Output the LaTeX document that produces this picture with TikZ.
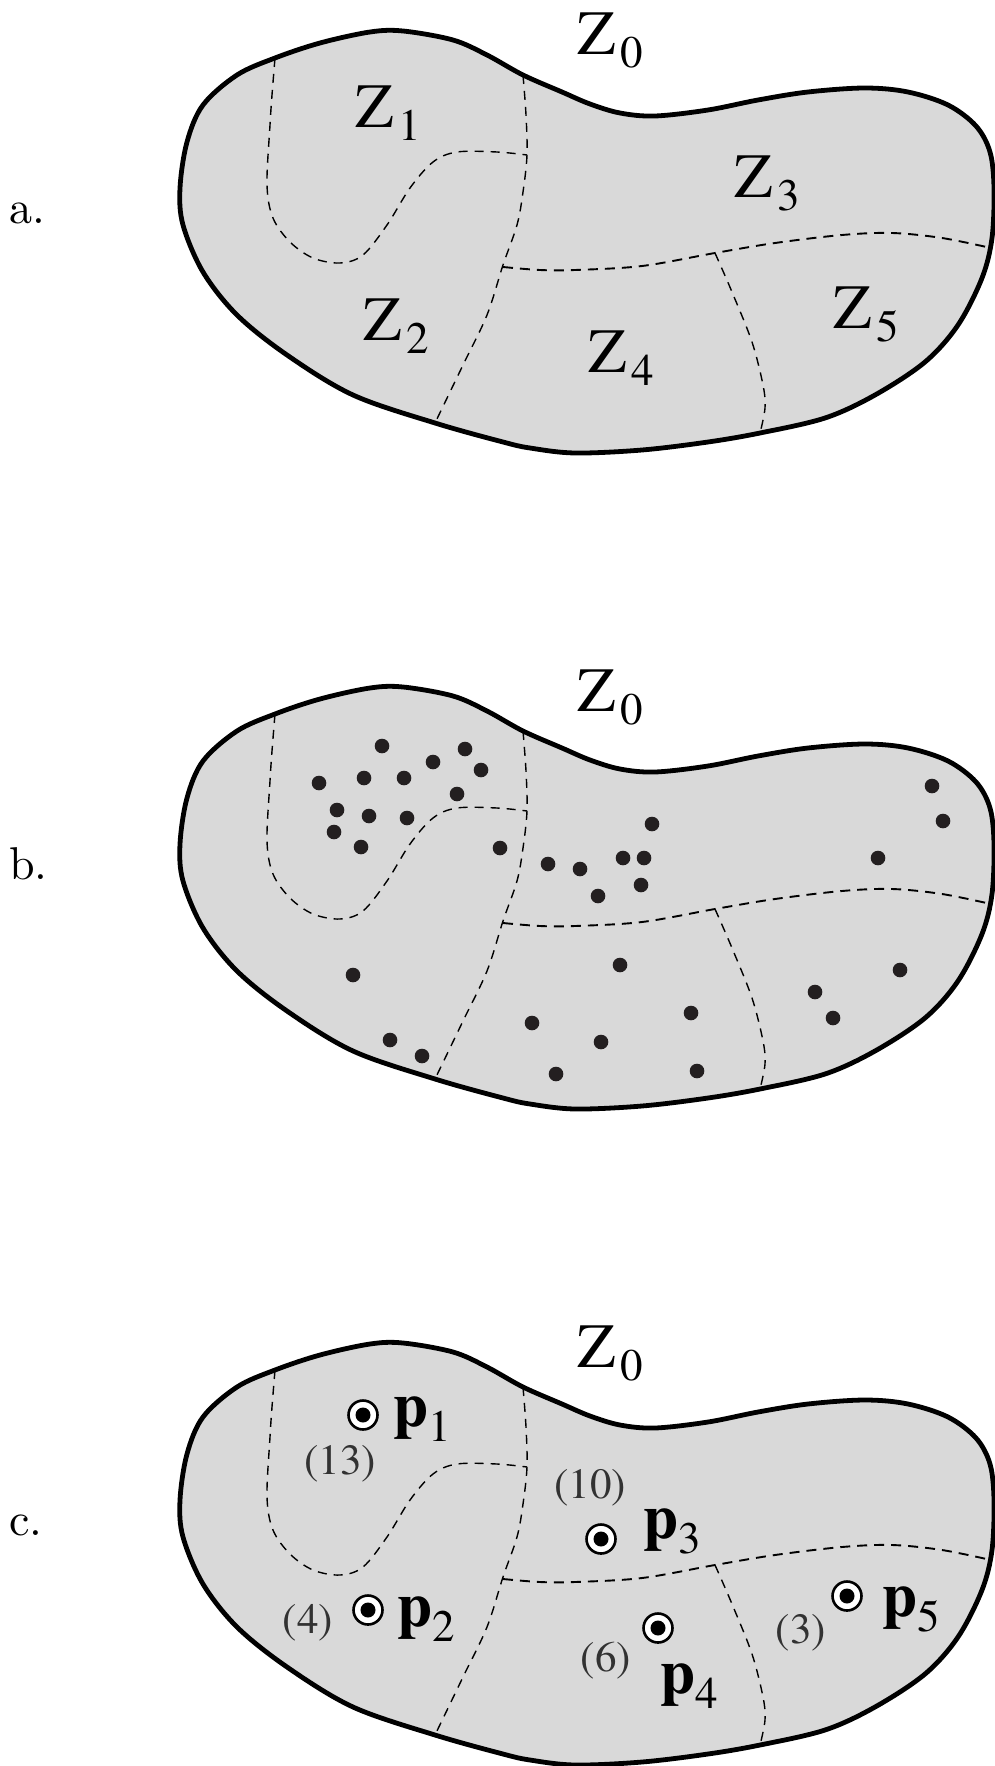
\documentclass[tikz,border=0pt]{standalone}
\usepackage{fontspec}
\newfontfamily\lsfont{texgyretermes}[Extension=.otf, UprightFont=*-regular, BoldFont=*-bold]
\newfontfamily\lmfont{lmroman10-regular}[Extension=.otf]
\definecolor{blobgray}{RGB}{217,217,217}
\definecolor{dotcol}{RGB}{35,31,32}
\definecolor{cntcol}{RGB}{50,50,50}
\newcommand{\Zsub}[1]{Z\kern5pt\raisebox{-13pt}{\lsfont\fontsize{45}{45}\selectfont #1}}
\newcommand{\psub}[1]{{\bfseries p}\kern0.5pt\raisebox{-15pt}{\lsfont\fontsize{45}{45}\selectfont #1}}
\tikzset{
  outline/.style={line width=4.8pt, fill=blobgray, line join=round},
  zone/.style={dash pattern=on 9pt off 7pt, line width=1.4pt},
  zonemid/.style={dash pattern=on 10pt off 7pt, line width=1.9pt},
  lbl/.style={inner sep=0pt, outer sep=0pt, anchor=base west, font=\lsfont\fontsize{63}{63}\selectfont},
  cnt/.style={inner sep=0pt, anchor=base, text=cntcol, font=\lsfont\fontsize{43}{43}\selectfont},
  dot/.style={circle, fill=dotcol, inner sep=0pt, minimum size=14.6pt},
  ring/.style={circle, draw, line width=2.6pt, fill=white, minimum size=29pt, inner sep=0pt,
    path picture={\fill[black] (path picture bounding box.center) circle (7.5pt);}},
  panlbl/.style={inner sep=0pt, anchor=base west, font=\lmfont\fontsize{46}{46}\selectfont}
}
\begin{document}
\begin{tikzpicture}[x=1pt,y=-1pt]
\useasboundingbox (0,0) rectangle (995,1766);
\foreach \oy/\nm in {0/a,656/b,1312/c}{
\begin{scope}[yshift=-\oy pt]
  \draw[outline] plot[smooth cycle, tension=0.55] coordinates {
    (180,188) (187,142) (203,105) (237,75) (275,58) (320,43) (370,32) (403,31)
    (453,40) (487,55) (523,75) (562,92) (590,104) (620,113) (655,116) (708,110)
    (758,100) (808,92) (865,88) (908,92) (948,105) (976,126) (990,152) (994,188)
    (992,238) (982,278) (958,325) (925,362) (875,395) (825,418) (760,433) (708,442)
    (642,450) (575,453) (530,448) (503,442) (435,423) (353,395) (287,355) (237,315)
    (203,272) (183,225)};
  \draw[zone] plot[smooth, tension=0.55] coordinates {
    (275,58) (272,95) (270,125) (267,185) (273,218) (290,242) (313,258) (340,263)
    (363,255) (387,225) (410,188) (433,162) (457,152) (497,152) (527,155)};
  \draw[zone] plot[smooth, tension=0.55] coordinates {
    (523,75) (526,115) (527,155) (523,192) (517,225) (503,265) (487,315) (463,365) (435,423)};
  \draw[zonemid] plot[smooth, tension=0.55] coordinates {
    (503,267) (540,270) (575,270) (642,266) (715,253) (775,243) (842,235) (892,233) (942,238) (991,248)};
  \draw[zone] plot[smooth, tension=0.55] coordinates {
    (715,253) (732,292) (752,342) (763,385) (765,408) (760,433)};
  \node[lbl] (z0\nm) at (577,55) {\Zsub{0}};
\end{scope}
}
% panel labels
\node[panlbl] (la) at (9,223) {a.};
\node[panlbl] (lb) at (9,879) {b.};
\node[panlbl] (lc) at (9,1535) {c.};
% panel a zone names
\node[lbl] (z1) at (355,128) {\Zsub{1}};
\node[lbl] (z2) at (363,340) {\Zsub{2}};
\node[lbl] (z3) at (734,197) {\Zsub{3}};
\node[lbl] (z4) at (588,372) {\Zsub{4}};
\node[lbl] (z5) at (833,328) {\Zsub{5}};
% panel b points
\foreach \p [count=\i] in {(382,746),(465,749),(433,762),(481,770),(319,783),(364,778),(404,778),
  (457,794),(337,810),(369,816),(407,818),(334,832),(361,847),
  (500,848),(353,975),(390,1040),(422,1056),
  (548,864),(580,869),(623,858),(644,858),(641,885),(598,896),(652,824),(932,786),(943,821),(878,858),
  (620,965),(532,1023),(601,1042),(556,1074),(691,1013),(697,1071),
  (900,970),(815,992),(833,1018)}{
  \node[dot] (d\i) at \p {};
}
% panel c representatives
\node[ring] (m1) at (363,1415) {};
\node[lbl] (p1) at (393,1426) {\psub{1}};
\node[cnt] (c1) at (340,1474) {(13)};
\node[ring] (m2) at (368,1610) {};
\node[lbl] (p2) at (397,1626) {\psub{2}};
\node[cnt] (c2) at (308,1633) {(4)};
\node[ring] (m3) at (601,1539) {};
\node[lbl] (p3) at (643,1538) {\psub{3}};
\node[cnt] (c3) at (590,1498) {(10)};
\node[ring] (m4) at (658,1628) {};
\node[lbl] (p4) at (660,1693) {\psub{4}};
\node[cnt] (c4) at (606,1671) {(6)};
\node[ring] (m5) at (847,1596) {};
\node[lbl] (p5) at (882,1616) {\psub{5}};
\node[cnt] (c5) at (801,1643) {(3)};
\end{tikzpicture}
\end{document}
